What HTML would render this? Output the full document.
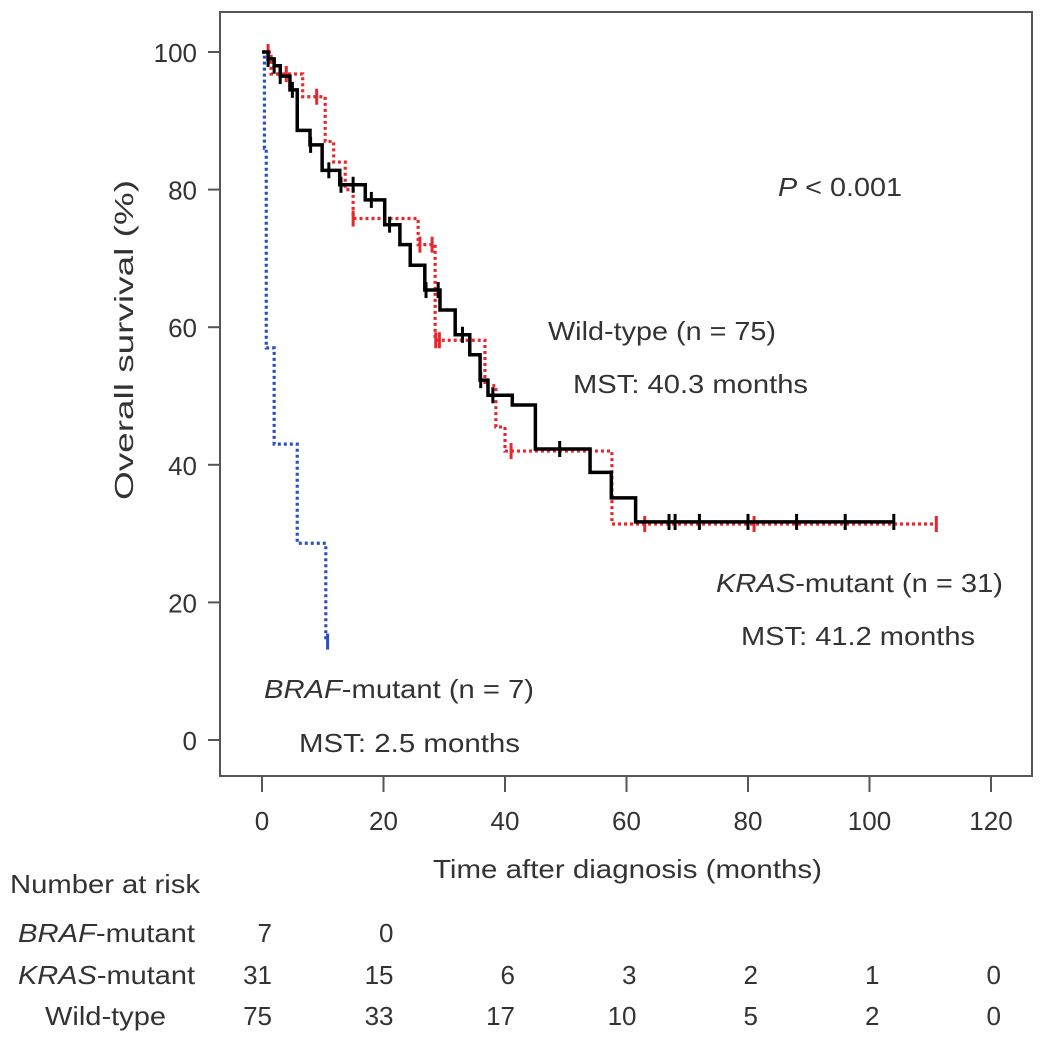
<!DOCTYPE html>
<html><head><meta charset="utf-8"><style>
body{margin:0;background:#fff;}
svg text{font-family:"Liberation Sans",Arial,sans-serif;fill:#333;}
</style></head><body>
<svg id="chart" width="1048" height="1041" viewBox="0 0 1048 1041" xmlns="http://www.w3.org/2000/svg">
<rect x="220" y="12" width="812" height="764" fill="none" stroke="#555" stroke-width="2"/>
<g id="axes"></g>
<g id="curves"></g>
<text transform="translate(133,340) rotate(-90)" text-anchor="middle" font-size="26" textLength="320" lengthAdjust="spacingAndGlyphs">Overall survival (%)</text>
<text x="433" y="878" font-size="26" textLength="389" lengthAdjust="spacingAndGlyphs">Time after diagnosis (months)</text>
<text x="778" y="196" font-size="26" textLength="124" lengthAdjust="spacingAndGlyphs"><tspan font-style="italic">P</tspan> &lt; 0.001</text>
<text x="548" y="340" font-size="26" textLength="228" lengthAdjust="spacingAndGlyphs">Wild-type (n = 75)</text>
<text x="573" y="393" font-size="26" textLength="235" lengthAdjust="spacingAndGlyphs">MST: 40.3 months</text>
<text x="716" y="592" font-size="26" textLength="287" lengthAdjust="spacingAndGlyphs"><tspan font-style="italic">KRAS</tspan>-mutant (n = 31)</text>
<text x="741" y="645" font-size="26" textLength="234" lengthAdjust="spacingAndGlyphs">MST: 41.2 months</text>
<text x="264" y="698" font-size="26" textLength="270" lengthAdjust="spacingAndGlyphs"><tspan font-style="italic">BRAF</tspan>-mutant (n = 7)</text>
<text x="299" y="752" font-size="26" textLength="221" lengthAdjust="spacingAndGlyphs">MST: 2.5 months</text>
<text x="10" y="893" font-size="26" textLength="190" lengthAdjust="spacingAndGlyphs">Number at risk</text>
<text x="18" y="942" font-size="26" textLength="177" lengthAdjust="spacingAndGlyphs"><tspan font-style="italic">BRAF</tspan>-mutant</text>
<text x="18" y="984" font-size="26" textLength="177" lengthAdjust="spacingAndGlyphs"><tspan font-style="italic">KRAS</tspan>-mutant</text>
<text x="45" y="1025" font-size="26" textLength="121" lengthAdjust="spacingAndGlyphs">Wild-type</text>
<g id="risk"></g>
</svg>
<script>
const xTicks=[0,20,40,60,80,100,120];
const yTicks=[0,20,40,60,80,100];
const wildT=[0,1,2,3,4.6,5.8,7.9,9.9,12.8,17,20.2,22.7,24.4,26.8,29.3,31.8,34.2,35.9,37.2,41.2,45,54,57.5,61.5,104];
const wildS=[100,99,98,96.5,94.5,88.6,86.5,82.8,80.7,78.5,74.9,72,69,65.4,62.5,58.9,56,52.3,50.1,48.7,42.3,38.9,35.2,31.7,31.7];
const krasT=[0,1.5,3.4,6.7,10.4,11.8,13.7,15,25.7,28.5,36.7,38.5,40,57.6,111];
const krasS=[100,96.8,96.8,93.5,87,84,80,75.8,72,58.1,51.5,45.5,42,31.4,31.4];
const brafT=[0,0.4,0.7,2,5.8,10.5,10.8];
const brafS=[100,86,57,43,28.6,14.3,14.3];
const wildCens=[1,2,3,5,8,11,13,15,18,21,27,29,33,36,38,49,67,68,72,80,88,96,104];
const krasCens=[1,4,9,15,26,28,28.6,29.2,41,63,81,111];
const riskBraf=[7,0];
const riskKras=[31,15,6,3,2,1,0];
const riskWild=[75,33,17,10,5,2,0];
const X=t=>262+t*6.075, Y=s=>740-s*6.88;
const NS="http://www.w3.org/2000/svg";
function mk(tag,attrs,parent){const e=document.createElementNS(NS,tag);for(const k in attrs)e.setAttribute(k,attrs[k]);parent.appendChild(e);return e;}
const axes=document.getElementById('axes'),curves=document.getElementById('curves'),risk=document.getElementById('risk');
xTicks.forEach(v=>{
  const l=mk('line',{x1:X(v),x2:X(v),y1:776,y2:792,stroke:'#555','stroke-width':2},axes);
  
  
  const t=mk('text',{x:X(v),y:830,'text-anchor':'middle','font-size':26},axes);t.textContent=v;
  
  
});
yTicks.forEach(v=>{
  const l=mk('line',{x1:208,x2:220,y1:Y(v),y2:Y(v),stroke:'#555','stroke-width':2},axes);
  
  
  const t=mk('text',{x:197,y:Y(v)+10,'text-anchor':'end','font-size':26},axes);t.textContent=v;
  
  
});
function stepAt(T,S,t){let s=S[0];for(let i=0;i<T.length;i++){if(T[i]<=t)s=S[i];}return s;}
function drawCurve(T,S,color,dash,w,name,cens){
  let d='M'+X(T[0])+','+Y(S[0]);
  for(let i=1;i<T.length;i++){d+=' H'+X(T[i])+' V'+Y(S[i]);}
  const p=mk('path',{d:d,fill:'none',stroke:color,'stroke-width':w,'stroke-dasharray':dash},curves);
  
  
  cens.forEach(c=>{const s=stepAt(T,S,c);
    const m=mk('line',{x1:X(c),x2:X(c),y1:Y(s)-8,y2:Y(s)+8,stroke:color,'stroke-width':3},curves);
    
    
  });
}
drawCurve(krasT,krasS,'#e8262b','3 3',3.2,'kras-curve',krasCens);
drawCurve(brafT,brafS,'#2b4fc0','3 3',3.2,'braf-curve',[10.8]);
drawCurve(wildT,wildS,'#000','none',3.5,'wildtype-curve',wildCens);
function riskRow(arr,y,name){arr.forEach((v,i)=>{
  const t=mk('text',{x:X(xTicks[i])+10,y:y,'text-anchor':'end','font-size':26},risk);t.textContent=v;
  
  
});}
riskRow(riskBraf,942,'risk-braf');
riskRow(riskKras,984,'risk-kras');
riskRow(riskWild,1025,'risk-wild');
</script>
</body></html>
